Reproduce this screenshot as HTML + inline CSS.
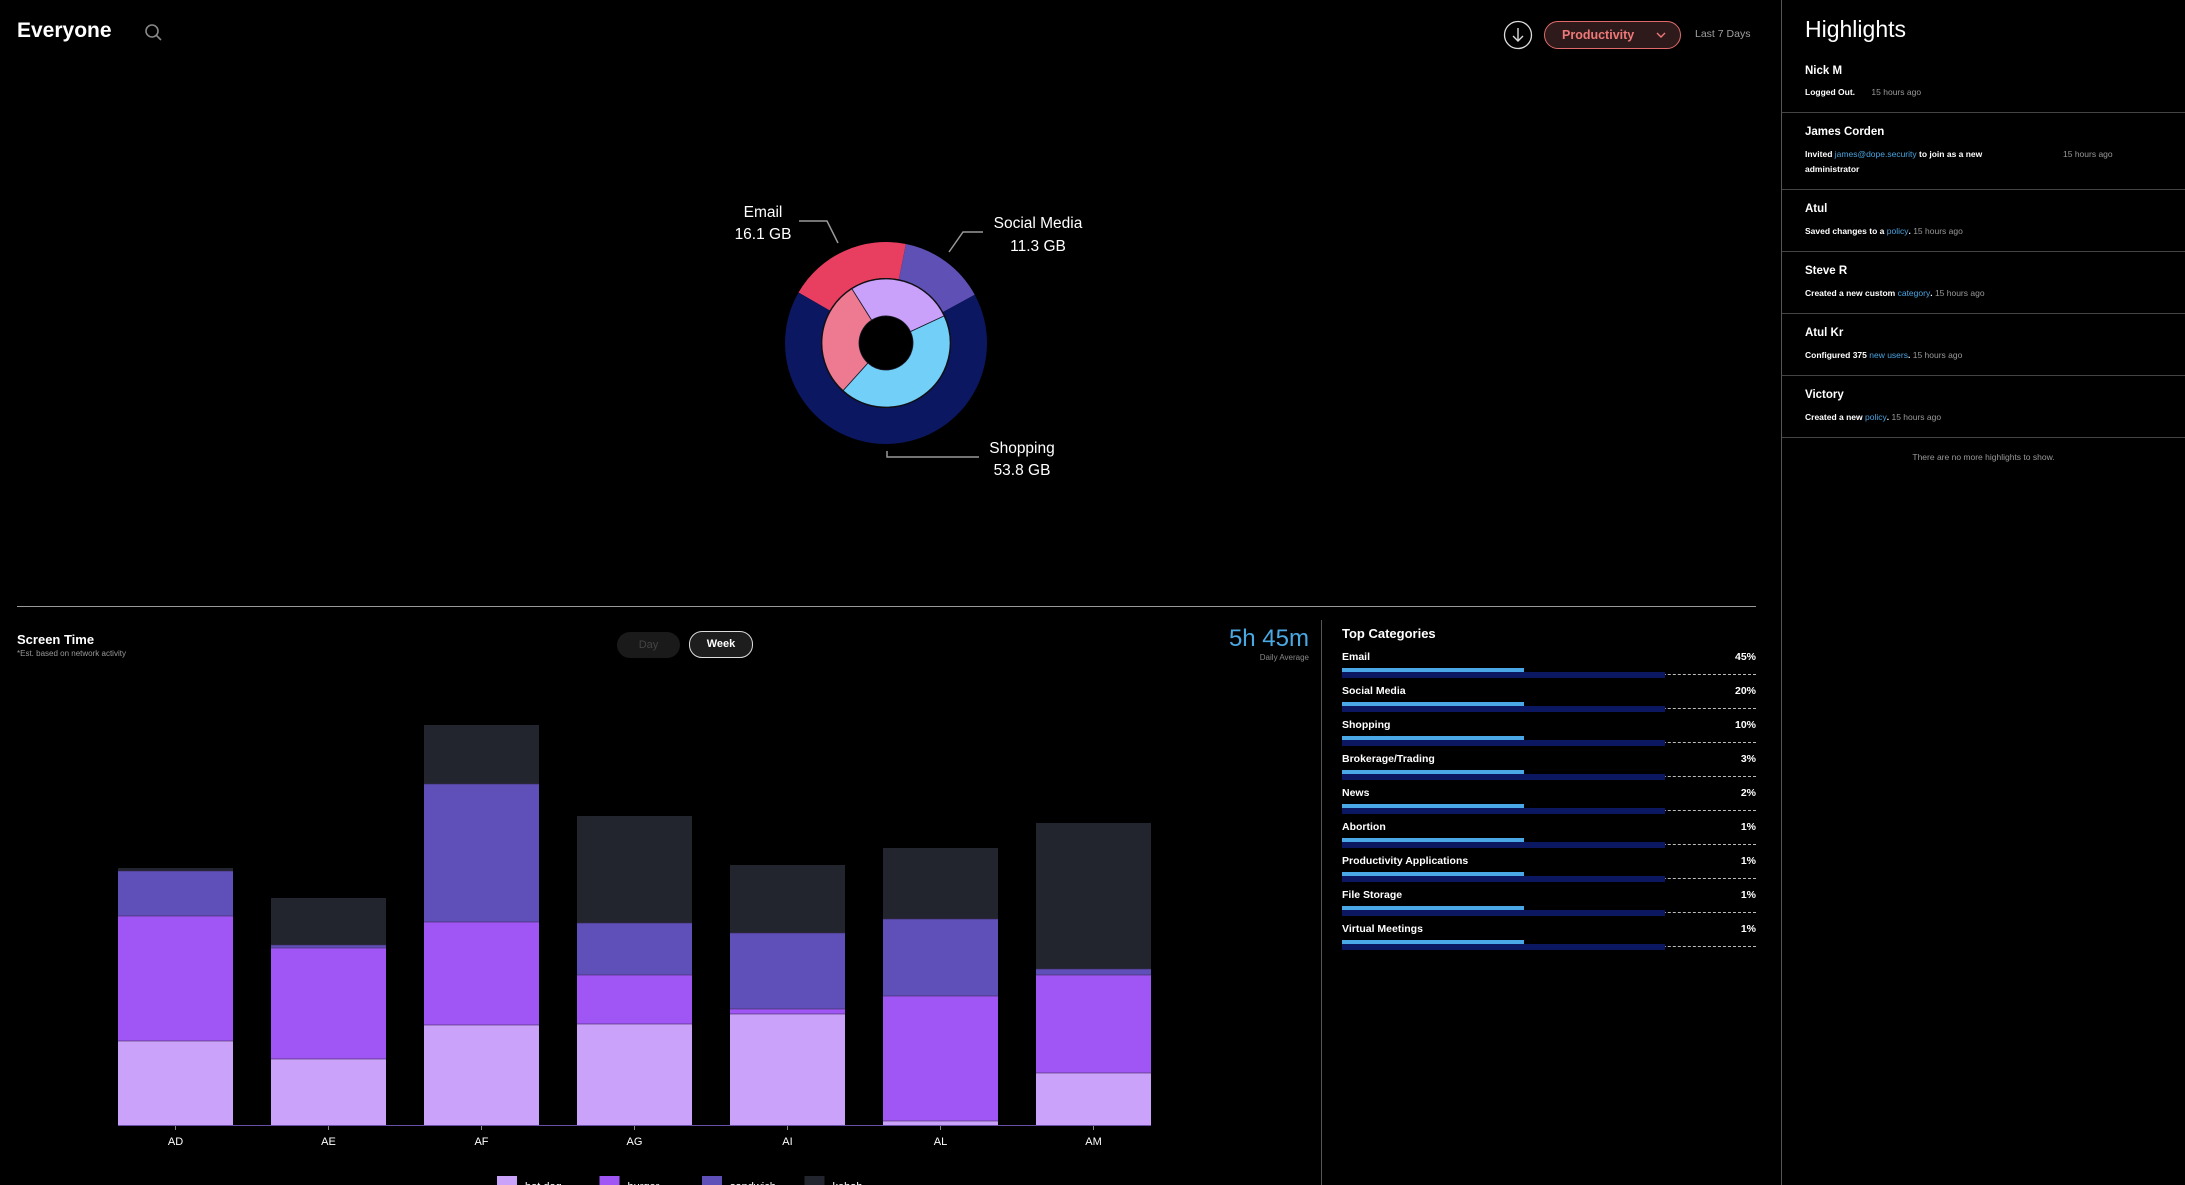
<!DOCTYPE html>
<html><head><meta charset="utf-8">
<style>
html,body{margin:0;padding:0;background:#000;}
body{width:2185px;height:1185px;position:relative;overflow:hidden;font-family:"Liberation Sans",sans-serif;color:#fff;}
.a{position:absolute;white-space:nowrap;}
.hl-name{font-size:11.5px;font-weight:bold;left:1805px;}
.hl-sub{font-size:8.5px;font-weight:bold;left:1805px;}
.ts{color:#999;font-weight:normal;}
.lk{color:#4aa3e0;font-weight:normal;}
.div{position:absolute;left:1782px;width:403px;height:1px;background:#444;}
.cat-l{font-size:10.5px;font-weight:bold;left:1342px;}
.cat-p{font-size:10.5px;font-weight:bold;right:429px;text-align:right;}
</style></head><body>
<div class="a" style="left:17px;top:19px;font-size:21px;font-weight:bold;">Everyone</div>
<svg class="a" style="left:143px;top:22px" width="22" height="22"><circle cx="9" cy="9" r="6" fill="none" stroke="#888" stroke-width="1.6"/><line x1="13.5" y1="13.5" x2="18" y2="18" stroke="#888" stroke-width="1.6"/></svg>
<svg class="a" style="left:1503px;top:20px" width="30" height="30"><circle cx="15" cy="15" r="13.5" fill="none" stroke="#ddd" stroke-width="1.3"/><line x1="15" y1="8" x2="15" y2="21" stroke="#ddd" stroke-width="1.4"/><polyline points="10,16 15,21 20,16" fill="none" stroke="#ddd" stroke-width="1.4"/></svg>
<div class="a" style="left:1544px;top:21px;height:26px;border:1.2px solid #e06a6a;border-radius:15px;background:#2e1a1b;color:#ef7878;font-size:12.5px;font-weight:bold;line-height:26px;padding-left:17px;width:118px;">Productivity<svg style="position:absolute;left:111px;top:10px" width="10" height="7"><polyline points="1,1 5,5 9,1" fill="none" stroke="#ef7878" stroke-width="1.4"/></svg></div>
<div class="a" style="left:1695px;top:28px;font-size:10.5px;color:#a0a0a0;">Last 7 Days</div>

<svg id="donut" class="a" style="left:0;top:0" width="1780" height="600"></svg>

<div class="a" style="left:17px;top:606px;width:1739px;height:1px;background:#999;"></div>
<div class="a" style="left:17px;top:632px;font-size:13px;font-weight:bold;">Screen Time</div>
<div class="a" style="left:17px;top:649px;font-size:8px;color:#999;">*Est. based on network activity</div>
<div class="a" style="left:617px;top:632px;width:63px;height:26px;border-radius:13px;background:#1a1a1a;color:#444;font-size:11px;line-height:26px;text-align:center;">Day</div>
<div class="a" style="left:689px;top:631px;width:62px;height:25px;border-radius:13px;background:#1d1d1d;border:1.3px solid #ddd;color:#fff;font-size:11px;font-weight:bold;line-height:25px;text-align:center;">Week</div>
<div class="a" style="right:876px;top:625px;font-size:24px;color:#4aa8e2;">5h 45m</div>
<div class="a" style="right:876px;top:653px;font-size:8px;color:#888;">Daily Average</div>

<svg id="bars" class="a" style="left:0;top:600px" width="1320" height="585"></svg>

<div class="a" style="left:1321px;top:620px;width:1px;height:565px;background:#555;"></div>
<div class="a" style="left:1342px;top:626px;font-size:13px;font-weight:bold;">Top Categories</div>
<div id="cats"></div>

<div class="a" style="left:1781px;top:0;width:1px;height:1185px;background:#555;"></div>
<div class="a" style="left:1805px;top:16px;font-size:23px;">Highlights</div>
<div class="a hl-name" style="top:65px">Nick M</div>
<div class="a hl-sub" style="top:87px">Logged Out. <span class="ts" style="margin-left:14px">15 hours ago</span></div>
<div class="div" style="top:112px"></div>
<div class="a hl-name" style="top:126px">James Corden</div>
<div class="a hl-sub" style="top:149px">Invited <span class="lk">james@dope.security</span> to join as a new</div>
<div class="a hl-sub" style="top:164px">administrator</div>
<div class="a hl-sub ts" style="left:2063px;top:149px">15 hours ago</div>
<div class="div" style="top:189px"></div>
<div class="a hl-name" style="top:203px">Atul</div>
<div class="a hl-sub" style="top:226px">Saved changes to a <span class="lk">policy</span>. <span class="ts">15 hours ago</span></div>
<div class="div" style="top:251px"></div>
<div class="a hl-name" style="top:265px">Steve R</div>
<div class="a hl-sub" style="top:288px">Created a new custom <span class="lk">category</span>. <span class="ts">15 hours ago</span></div>
<div class="div" style="top:313px"></div>
<div class="a hl-name" style="top:327px">Atul Kr</div>
<div class="a hl-sub" style="top:350px">Configured 375 <span class="lk">new users</span>. <span class="ts">15 hours ago</span></div>
<div class="div" style="top:375px"></div>
<div class="a hl-name" style="top:389px">Victory</div>
<div class="a hl-sub" style="top:412px">Created a new <span class="lk">policy</span>. <span class="ts">15 hours ago</span></div>
<div class="div" style="top:437px"></div>
<div class="a" style="left:1782px;width:403px;text-align:center;top:452px;font-size:8.5px;color:#999;">There are no more highlights to show.</div>

<script>
// Donut data
const outerLabels=["Email","Social Media","Shopping"];
const outerValues=[16.1,11.3,53.8];
const innerValues=[29.4,27,43.6];
// Bar data
const categories=["AD","AE","AF","AG","AI","AL","AM"];
const seriesNames=["hot dog","burger","sandwich","kebab"];
const hotdog=[84,66,100,101,111,4,52];
const burger=[125,111,103,49,5,125,98];
const sandwich=[45,3,138,52,76,77,6];
const kebab=[3,47,59,107,68,71,146];
// Top categories
const catNames=["Email","Social Media","Shopping","Brokerage/Trading","News","Abortion","Productivity Applications","File Storage","Virtual Meetings"];
const catPct=["45%","20%","10%","3%","2%","1%","1%","1%","1%"];
const app=[0.44,0.44,0.44,0.44,0.44,0.44,0.44,0.44,0.44];
const heat=[0.78,0.78,0.78,0.78,0.78,0.78,0.78,0.78,0.78];

const NS="http://www.w3.org/2000/svg";
function mk(parent,tag,attrs){const e=document.createElementNS(NS,tag);for(const k in attrs)e.setAttribute(k,attrs[k]);parent.appendChild(e);return e;}

// ---- Donut ----
(function(){
const svg=document.getElementById('donut');
const cx=886,cy=343;
function arc(r0,r1,a0,a1){
 const p=(r,a)=>[cx+r*Math.sin(a),cy-r*Math.cos(a)];
 const lg=(a1-a0)>Math.PI?1:0;
 const [x0,y0]=p(r1,a0),[x1,y1]=p(r1,a1),[x2,y2]=p(r0,a1),[x3,y3]=p(r0,a0);
 return `M${x0},${y0}A${r1},${r1} 0 ${lg} 1 ${x1},${y1}L${x2},${y2}A${r0},${r0} 0 ${lg} 0 ${x3},${y3}Z`;
}
const oc=["#e83e5f","#5e50b5","#0b1760"];
const ic=["#ee7a92","#c9a0fa","#72cff8"];
let tot=outerValues.reduce((a,b)=>a+b,0), a=-60*Math.PI/180;
outerValues.forEach((v,i)=>{const d=v/tot*2*Math.PI;
 const e=mk(svg,'path',{d:arc(65,101,a,a+d),fill:oc[i]});
 
 
 a+=d;});
let ti=innerValues.reduce((a,b)=>a+b,0); a=222*Math.PI/180;
innerValues.forEach((v,i)=>{const d=v/ti*2*Math.PI;
 const e=mk(svg,'path',{d:arc(27,64,a,a+d),fill:ic[i],stroke:'#1a1a2a','stroke-width':0.8});
 
 
 a+=d;});
mk(svg,'circle',{cx:cx,cy:cy,r:64.5,fill:'none',stroke:'#111','stroke-width':1});
const lines=[[[838,243],[827,221],[799,221]],[[949,252],[963,232],[983,232]],[[887,451],[887,457],[979,457]]];
const labelPos=[[763,211,233],[1038,222,245],[1022,447,469]];
outerValues.forEach((v,i)=>{
 const l=mk(svg,'polyline',{points:lines[i].map(p=>p.join(',')).join(' '),fill:'none',stroke:'#999','stroke-width':1.5});
 
 
 const t=mk(svg,'text',{x:labelPos[i][0],y:labelPos[i][1]+6,'text-anchor':'middle','font-size':15.5,fill:'#fff'});
 t.textContent=outerLabels[i];
 
 
 const t2=mk(svg,'text',{x:labelPos[i][0],y:labelPos[i][2]+6,'text-anchor':'middle','font-size':15.5,fill:'#fff'});
 t2.textContent=v.toFixed(1)+' GB';
 
 
});
})();

// ---- Bars ----
(function(){
const svg=document.getElementById('bars');
const base=525, x0=175.5, step=153, bw=115;
const y=v=>v*1.0;
const cols=["#cba2f9","#a056f4","#5e50b8","#22252d"];
const series=[hotdog,burger,sandwich,kebab];
categories.forEach((c,i)=>{
 const cx=x0+i*step; let acc=0;
 series.forEach((s,k)=>{
  const h=y(s[i]);
  const r=mk(svg,'rect',{x:cx-bw/2,y:base-y(acc)-h,width:bw,height:h,fill:cols[k]});
  
  
  if(acc>0){mk(svg,'line',{x1:cx-bw/2,x2:cx+bw/2,y1:base-y(acc),y2:base-y(acc),stroke:'rgba(60,40,90,0.6)','stroke-width':1});}
  acc+=s[i];
 });
 const tk=mk(svg,'line',{x1:cx,x2:cx,y1:base,y2:base+5,stroke:'#888','stroke-width':1});
 
 
 const t=mk(svg,'text',{x:cx,y:base+20,'text-anchor':'middle','font-size':11,fill:'#fff'});
 t.textContent=c;
 
 
});
mk(svg,'line',{x1:118,x2:1151,y1:base+0.5,y2:base+0.5,stroke:'#6a4fa8','stroke-width':1});
seriesNames.forEach((n,k)=>{
 const lx=497+k*102.5;
 const r=mk(svg,'rect',{x:lx,y:576,width:20,height:20,fill:cols[k]});
 
 
 const t=mk(svg,'text',{x:lx+28,y:590,'font-size':11,fill:'#fff'});
 t.textContent=n;
 
 
});
})();

// ---- Top categories ----
(function(){
const host=document.getElementById('cats');
const L=1342,W=414;
catNames.forEach((n,i)=>{
 const top=658+i*34;
 const l=document.createElement('div');l.className='a cat-l';l.style.top=(top-7)+'px';l.textContent=n;
 
 
 host.appendChild(l);
 const p=document.createElement('div');p.className='a cat-p';p.style.top=(top-7)+'px';p.textContent=catPct[i];
 
 
 host.appendChild(p);
 const d=document.createElement('div');d.className='a';
 d.style.cssText=`left:${L}px;top:${top+15.5}px;width:${W}px;border-top:1px dashed #bbb;`;
 
 
 host.appendChild(d);
 const b2=document.createElement('div');b2.className='a';
 b2.style.cssText=`left:${L}px;top:${top+14}px;width:${W*heat[i]}px;height:6px;background:#0b1760;`;
 
 
 host.appendChild(b2);
 const b1=document.createElement('div');b1.className='a';
 b1.style.cssText=`left:${L}px;top:${top+10}px;width:${W*app[i]}px;height:4px;background:#4aa8e6;`;
 
 
 host.appendChild(b1);
});
})();
</script>
</body></html>
